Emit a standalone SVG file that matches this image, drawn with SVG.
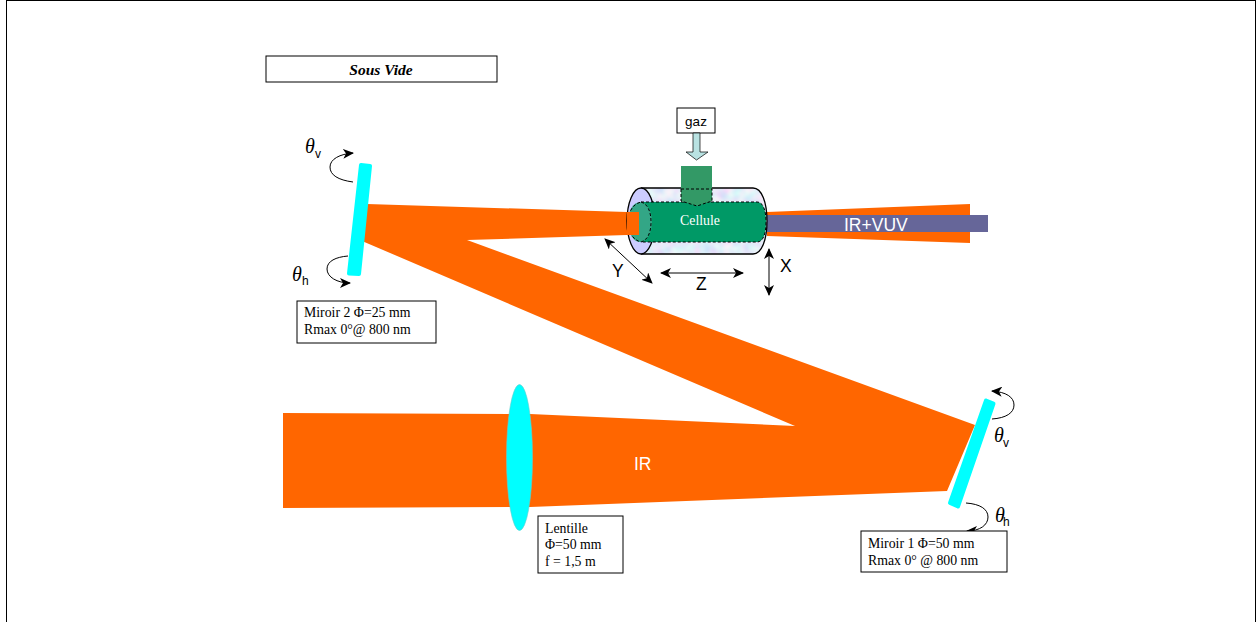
<svg xmlns="http://www.w3.org/2000/svg" width="1256" height="622" viewBox="0 0 1256 622">
<style>
.box{fill:#fff;stroke:#000;stroke-width:1}
.s{font-family:"Liberation Serif",serif;font-size:13.8px;fill:#000}
.a{font-family:"Liberation Sans",Arial,sans-serif;font-size:17.5px;fill:#000}
.th{font-family:"Liberation Serif",serif;font-size:20px;font-style:italic;fill:#000}
.sub{font-family:"Liberation Sans",Arial,sans-serif;font-size:12px;fill:#000}
.w{stroke:#000;stroke-width:1;fill:none}
.d{stroke:#000;stroke-width:1;stroke-dasharray:3 2;fill:none}
.o{fill:#ff6600}
.m{fill:#00ffff;stroke:#00ffff;stroke-width:4;stroke-linejoin:round}
</style>
<defs>
<marker id="ah" markerUnits="userSpaceOnUse" markerWidth="12" markerHeight="10" refX="10" refY="5" orient="auto-start-reverse"><path d="M0 0L11 5L0 10L3 5Z" fill="#000"/></marker>
<filter id="mottle" x="0" y="0" width="1" height="1"><feTurbulence type="fractalNoise" baseFrequency=".09" numOctaves="2" seed="4"/><feColorMatrix values=".5 0 0 0 .54  0 .4 0 0 .62  0 0 0 0 .95  0 0 0 0 1"/><feComposite in2="SourceAlpha" operator="in"/></filter>
</defs>
<rect x="6.500" y="0.500" width="1249" height="630" fill="#fff" stroke="#000"/>
<g id="beams">
<path class="o" d="M283 413L530 414L795 426L362 241L367 204L627 212L627 235L467 240L975 425L947 491L530 507L283 508Z"/>
<path class="o" d="M767 212L970 204L970 243L767 236Z"/>
<rect x="767" y="215" width="221" height="17" fill="#666699"/>
<text x="634" y="470" class="a" style="fill:#fff">IR</text>
<text x="844" y="231" class="a" style="fill:#fff">IR+VUV</text>
</g>
<g id="sous-vide"><rect class="box" x="266" y="56" width="231" height="26"/><text x="381" y="75" text-anchor="middle" style="font-family:'Liberation Serif',serif;font-size:15.500px;font-weight:bold;font-style:italic">Sous Vide</text></g>
<g id="cellule">
<path d="M641 188H753C762 188 767 203 767 221C767 239 762 254 753 254H641Z" fill="#ccd8f6" filter="url(#mottle)"/>
<path d="M641 188H753C762 188 767 203 767 221C767 239 762 254 753 254H641" fill="none" stroke="#000" stroke-width="1.300"/>
<ellipse cx="641" cy="221" rx="14" ry="33" fill="#ccccff" stroke="#000" stroke-width="1.300"/>
<path d="M641 202H757C763 202 766 210 766 222C766 234 763 242 757 242H641Z" fill="#009966"/>
<path class="d" d="M641 202H757C763 202 766 210 766 222C766 234 763 242 757 242H641"/>
<ellipse cx="640" cy="222" rx="12" ry="20" fill="#33a686"/>
<path class="d" d="M641 202C648 204 651 212 651 222C651 232 648 240 641 242C633 240 628 232 628 222C628 212 633 204 641 202"/>
<path d="M681 166H712V201L697 206L681 201Z" fill="#339966"/>
<path class="d" d="M681 189H712M681 189V201L697 206L712 201V189"/>
<rect x="627" y="212" width="12" height="23" fill="#ff6600"/>
<text x="700" y="225" text-anchor="middle" style="font-family:'Liberation Serif',serif;font-size:13.800px;fill:#fff">Cellule</text>
</g>
<g id="gaz">
<rect class="box" x="677" y="108" width="38" height="25"/>
<text x="696" y="126" text-anchor="middle" style="font-family:'Liberation Sans',sans-serif;font-size:13.500px">gaz</text>
<path d="M693 133H700V152H708L696.500 160L686 152H693Z" fill="#b9e2e2" stroke="#000" stroke-width=".7"/>
</g>
<g id="connectors">
<path class="w" d="M605 239L652 283" marker-start="url(#ah)" marker-end="url(#ah)"/>
<path class="w" d="M661 273H743" marker-start="url(#ah)" marker-end="url(#ah)"/>
<path class="w" d="M769 249V295" marker-start="url(#ah)" marker-end="url(#ah)"/>
<path class="w" d="M353 182C338 180 330 175 330 167C330 159 340 154 353 153" marker-end="url(#ah)"/>
<path class="w" d="M348 256C336 257 327 261 327 269C327 277 337 283 350 283" marker-end="url(#ah)"/>
<path class="w" d="M992 419C1006 418 1014 413 1014 405C1014 397 1006 392 992 391" marker-end="url(#ah)"/>
<path class="w" d="M966 503C980 504 988 509 988 517C988 525 980 531 967 531" marker-end="url(#ah)"/>
</g>
<g id="axes">
<text x="612" y="277" class="a">Y</text>
<text x="696" y="290" class="a">Z</text>
<text x="780" y="272" class="a">X</text>
<text x="305" y="153" class="th">θ</text><text x="315" y="158" class="sub">v</text>
<text x="292" y="281" class="th">θ</text><text x="302" y="285" class="sub">h</text>
<text x="994" y="442" class="th">θ</text><text x="1003" y="447" class="sub">v</text>
<text x="995" y="522" class="th">θ</text><text x="1003" y="526" class="sub">h</text>
</g>
<g id="miroir-2">
<path class="m" d="M361 165L370 166L359 274L349 273.500Z"/>
<rect class="box" x="297" y="301" width="139" height="42"/>
<text x="304" y="317" class="s">Miroir 2 Φ=25 mm</text>
<text x="304" y="334" class="s">Rmax 0°@ 800 nm</text>
</g>
<g id="miroir-1">
<path class="m" d="M986 400.500L993.500 403.500L958 506.500L950 503Z"/>
<rect class="box" x="861" y="531" width="146" height="41"/>
<text x="868" y="548" class="s">Miroir 1 Φ=50 mm</text>
<text x="868" y="565" class="s">Rmax 0° @ 800 nm</text>
</g>
<g id="lentille">
<ellipse cx="519.500" cy="457.500" rx="13" ry="73" fill="#00ffff" stroke="#66cccc" stroke-width=".6"/>
<rect class="box" x="538" y="516" width="85" height="57"/>
<text x="545" y="533" class="s">Lentille</text>
<text x="545" y="549" class="s">Φ=50 mm</text>
<text x="545" y="566" class="s">f = 1,5 m</text>
</g>
</svg>
